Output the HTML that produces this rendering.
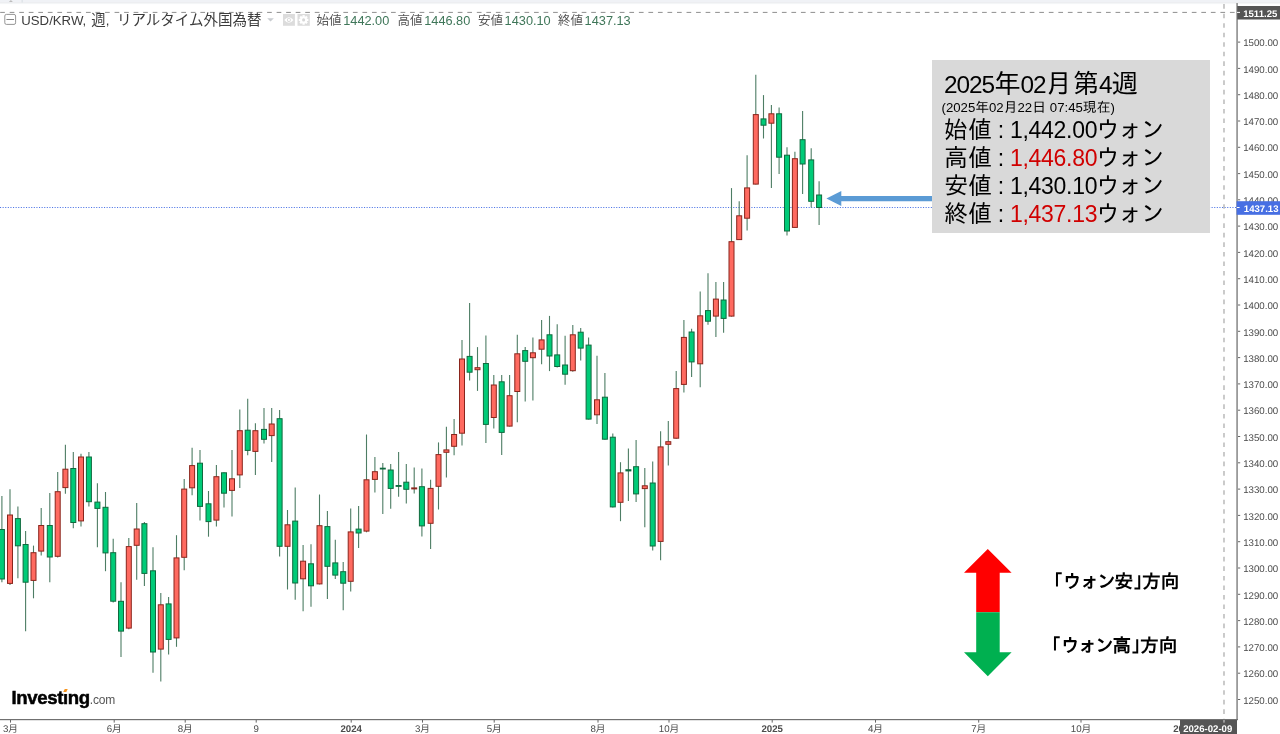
<!DOCTYPE html>
<html lang="ja">
<head>
<meta charset="utf-8">
<title>USD/KRW 週足チャート</title>
<style>
html,body{margin:0;padding:0;background:#fff;}
body{width:1280px;height:734px;overflow:hidden;position:relative;font-family:"Liberation Sans","Noto Sans CJK JP",sans-serif;}
svg{position:absolute;left:0;top:0;display:block;}
.ax{font:9.7px "Liberation Sans",sans-serif;fill:#4c4c4c;text-rendering:geometricPrecision;}
.tx{font:9.7px "Liberation Sans","Noto Sans CJK JP",sans-serif;fill:#4c4c4c;text-rendering:geometricPrecision;}
.b{font-weight:bold;}
.lb{font:bold 9.6px "Liberation Sans",sans-serif;fill:#fff;text-rendering:geometricPrecision;}
.lg{position:absolute;top:9px;height:22px;line-height:22px;white-space:nowrap;color:#3c3c3c;}
.lg .la{font-family:"Liberation Sans",sans-serif;font-size:13.2px;}
.lg .cj{font-family:"Liberation Sans","Noto Sans CJK JP",sans-serif;font-size:14.5px;font-weight:400;}
.ohlc{position:absolute;top:9px;height:22px;line-height:22px;white-space:nowrap;}
.ohlc .k{font-family:"Liberation Sans","Noto Sans CJK JP",sans-serif;font-size:12.5px;color:#555;font-weight:400;}
.ohlc .v{font-family:"Liberation Sans",sans-serif;font-size:12.75px;color:#3f7659;margin-left:1.6px;}
#info{position:absolute;left:932px;top:60px;width:278px;height:173px;background:#d9d9d9;}
#info div{position:absolute;left:12px;white-space:nowrap;color:#000;font-family:"Liberation Sans","IPAGothic",sans-serif;}
#info .t{top:9.3px;font-size:26.7px;line-height:30px;}
#info .s{top:39.5px;font-size:13.8px;line-height:16px;left:9.5px;}
#info .r{font-size:24px;line-height:28px;}
#info .n{font-family:"Liberation Sans",sans-serif;font-size:23px;letter-spacing:-0.3px;}
#info .c{display:inline-block;width:18px;text-align:center;font-family:"Liberation Sans",sans-serif;font-size:23px;}
#info .k{letter-spacing:-1.6px;margin-left:-1.2px;}
#info .t .n{font-size:24.4px;letter-spacing:-1.1px;}
#info .s .n{font-size:13.2px;letter-spacing:0;}
#info .red{color:#d00000;}
.dir{position:absolute;font-family:"Liberation Sans","IPAGothic",sans-serif;font-weight:bold;font-size:18.7px;line-height:22px;color:#000;white-space:nowrap;}
.dir .ka{letter-spacing:-1.53px;}
.dir .br{margin-right:-9.8px;}
#logo{position:absolute;left:11.5px;top:686px;height:24px;line-height:24px;white-space:nowrap;font-family:"Liberation Sans",sans-serif;}
#logo b{font-size:18.6px;letter-spacing:-0.37px;color:#000;-webkit-text-stroke:0.5px #000;}
#logo i{position:absolute;display:block;}
#logo .w{left:52px;top:3.4px;width:4.4px;height:4.4px;background:#fff;}
#logo .o{left:52.3px;top:3.4px;width:3.3px;height:3.0px;background:#f7941d;transform:skewX(-26deg);}
#logo span{font-size:12px;color:#555;letter-spacing:-0.2px;}
</style>
</head>
<body>
<svg width="1280" height="734" viewBox="0 0 1280 734">
<!-- top toolbar remnant -->
<rect x="0" y="0" width="1280" height="2.3" fill="#f0f2f6"/>
<rect x="0" y="2.3" width="1280" height="1.1" fill="#e7e9ed"/>
<rect x="0" y="3.4" width="1280" height="0.7" fill="#f4f5f7"/>
<rect x="21.5" y="0" width="1.3" height="2.5" fill="#dde1e6"/>
<polygon points="8.9,1.9 10.9,0 12.9,1.9" fill="#bdbdbd"/>
<!-- price line -->
<line x1="0" x2="1237" y1="207.5" y2="207.5" stroke="#4f76e6" stroke-width="1" stroke-dasharray="1.1 1.5"/>
<!-- crosshair -->
<line x1="0.17" x2="1237" y1="12.4" y2="12.4" stroke="#8f8f8f" stroke-width="1" stroke-dasharray="4.7 4.833"/>
<line x1="1224" x2="1224" y1="4.1" y2="719" stroke="#a8a8a8" stroke-width="1.2" stroke-dasharray="4.6 4.93"/>
<!-- candles -->
<g>
<line x1="1.90" x2="1.90" y1="496.1" y2="582.3" stroke="#4d7d64" stroke-width="1.1"/>
<rect x="-0.60" y="529.5" width="5" height="49.5" fill="#00cb78" stroke="#0f6a3e" stroke-width="1"/>
<line x1="10.00" x2="10.00" y1="489.2" y2="585.0" stroke="#4d7d64" stroke-width="1.1"/>
<rect x="7.50" y="515.0" width="5" height="68.4" fill="#ff6a60" stroke="#8a251c" stroke-width="1"/>
<line x1="17.90" x2="17.90" y1="506.5" y2="578.2" stroke="#4d7d64" stroke-width="1.1"/>
<rect x="15.40" y="518.6" width="5" height="27.2" fill="#00cb78" stroke="#0f6a3e" stroke-width="1"/>
<line x1="25.60" x2="25.60" y1="530.9" y2="631.2" stroke="#4d7d64" stroke-width="1.1"/>
<rect x="23.10" y="544.5" width="5" height="37.7" fill="#00cb78" stroke="#0f6a3e" stroke-width="1"/>
<line x1="33.50" x2="33.50" y1="545.6" y2="598.3" stroke="#4d7d64" stroke-width="1.1"/>
<rect x="31.00" y="552.7" width="5" height="27.7" fill="#ff6a60" stroke="#8a251c" stroke-width="1"/>
<line x1="41.20" x2="41.20" y1="508.0" y2="555.5" stroke="#4d7d64" stroke-width="1.1"/>
<rect x="38.70" y="525.5" width="5" height="25.6" fill="#ff6a60" stroke="#8a251c" stroke-width="1"/>
<line x1="49.80" x2="49.80" y1="493.0" y2="582.3" stroke="#4d7d64" stroke-width="1.1"/>
<rect x="47.30" y="525.5" width="5" height="31.5" fill="#00cb78" stroke="#0f6a3e" stroke-width="1"/>
<line x1="57.70" x2="57.70" y1="472.0" y2="557.5" stroke="#4d7d64" stroke-width="1.1"/>
<rect x="55.20" y="491.7" width="5" height="64.6" fill="#ff6a60" stroke="#8a251c" stroke-width="1"/>
<line x1="65.40" x2="65.40" y1="444.8" y2="493.7" stroke="#4d7d64" stroke-width="1.1"/>
<rect x="62.90" y="469.2" width="5" height="18.4" fill="#ff6a60" stroke="#8a251c" stroke-width="1"/>
<line x1="73.30" x2="73.30" y1="452.0" y2="528.3" stroke="#4d7d64" stroke-width="1.1"/>
<rect x="70.80" y="468.5" width="5" height="54.0" fill="#00cb78" stroke="#0f6a3e" stroke-width="1"/>
<line x1="81.00" x2="81.00" y1="453.8" y2="526.6" stroke="#4d7d64" stroke-width="1.1"/>
<rect x="78.50" y="457.0" width="5" height="63.9" fill="#ff6a60" stroke="#8a251c" stroke-width="1"/>
<line x1="88.90" x2="88.90" y1="452.0" y2="506.5" stroke="#4d7d64" stroke-width="1.1"/>
<rect x="86.40" y="457.0" width="5" height="44.7" fill="#00cb78" stroke="#0f6a3e" stroke-width="1"/>
<line x1="97.40" x2="97.40" y1="483.2" y2="547.3" stroke="#4d7d64" stroke-width="1.1"/>
<rect x="94.90" y="502.1" width="5" height="6.3" fill="#00cb78" stroke="#0f6a3e" stroke-width="1"/>
<line x1="105.50" x2="105.50" y1="492.0" y2="571.2" stroke="#4d7d64" stroke-width="1.1"/>
<rect x="103.00" y="507.3" width="5" height="45.6" fill="#00cb78" stroke="#0f6a3e" stroke-width="1"/>
<line x1="113.20" x2="113.20" y1="538.8" y2="602.6" stroke="#4d7d64" stroke-width="1.1"/>
<rect x="110.70" y="552.7" width="5" height="48.5" fill="#00cb78" stroke="#0f6a3e" stroke-width="1"/>
<line x1="121.00" x2="121.00" y1="582.3" y2="657.1" stroke="#4d7d64" stroke-width="1.1"/>
<rect x="118.50" y="601.3" width="5" height="29.8" fill="#00cb78" stroke="#0f6a3e" stroke-width="1"/>
<line x1="128.80" x2="128.80" y1="538.0" y2="629.3" stroke="#4d7d64" stroke-width="1.1"/>
<rect x="126.30" y="546.6" width="5" height="81.5" fill="#ff6a60" stroke="#8a251c" stroke-width="1"/>
<line x1="136.70" x2="136.70" y1="502.9" y2="579.7" stroke="#4d7d64" stroke-width="1.1"/>
<rect x="134.20" y="529.0" width="5" height="16.3" fill="#ff6a60" stroke="#8a251c" stroke-width="1"/>
<line x1="144.40" x2="144.40" y1="522.0" y2="586.1" stroke="#4d7d64" stroke-width="1.1"/>
<rect x="141.90" y="523.7" width="5" height="49.7" fill="#00cb78" stroke="#0f6a3e" stroke-width="1"/>
<line x1="153.00" x2="153.00" y1="547.3" y2="672.7" stroke="#4d7d64" stroke-width="1.1"/>
<rect x="150.50" y="570.8" width="5" height="81.2" fill="#00cb78" stroke="#0f6a3e" stroke-width="1"/>
<line x1="160.80" x2="160.80" y1="592.9" y2="681.6" stroke="#4d7d64" stroke-width="1.1"/>
<rect x="158.30" y="604.8" width="5" height="44.3" fill="#ff6a60" stroke="#8a251c" stroke-width="1"/>
<line x1="168.60" x2="168.60" y1="597.0" y2="654.5" stroke="#4d7d64" stroke-width="1.1"/>
<rect x="166.10" y="603.9" width="5" height="35.5" fill="#00cb78" stroke="#0f6a3e" stroke-width="1"/>
<line x1="176.50" x2="176.50" y1="535.2" y2="646.8" stroke="#4d7d64" stroke-width="1.1"/>
<rect x="174.00" y="557.9" width="5" height="80.0" fill="#ff6a60" stroke="#8a251c" stroke-width="1"/>
<line x1="184.20" x2="184.20" y1="479.0" y2="570.3" stroke="#4d7d64" stroke-width="1.1"/>
<rect x="181.70" y="489.1" width="5" height="68.2" fill="#ff6a60" stroke="#8a251c" stroke-width="1"/>
<line x1="192.10" x2="192.10" y1="447.8" y2="495.2" stroke="#4d7d64" stroke-width="1.1"/>
<rect x="189.60" y="465.6" width="5" height="22.2" fill="#ff6a60" stroke="#8a251c" stroke-width="1"/>
<line x1="200.00" x2="200.00" y1="450.0" y2="520.6" stroke="#4d7d64" stroke-width="1.1"/>
<rect x="197.50" y="463.2" width="5" height="43.2" fill="#00cb78" stroke="#0f6a3e" stroke-width="1"/>
<line x1="208.50" x2="208.50" y1="491.0" y2="536.7" stroke="#4d7d64" stroke-width="1.1"/>
<rect x="206.00" y="503.8" width="5" height="17.8" fill="#00cb78" stroke="#0f6a3e" stroke-width="1"/>
<line x1="216.40" x2="216.40" y1="465.1" y2="526.6" stroke="#4d7d64" stroke-width="1.1"/>
<rect x="213.90" y="476.7" width="5" height="43.4" fill="#ff6a60" stroke="#8a251c" stroke-width="1"/>
<line x1="224.00" x2="224.00" y1="472.3" y2="507.6" stroke="#4d7d64" stroke-width="1.1"/>
<rect x="221.50" y="472.8" width="5" height="20.4" fill="#00cb78" stroke="#0f6a3e" stroke-width="1"/>
<line x1="232.00" x2="232.00" y1="450.0" y2="516.5" stroke="#4d7d64" stroke-width="1.1"/>
<rect x="229.50" y="478.8" width="5" height="11.6" fill="#ff6a60" stroke="#8a251c" stroke-width="1"/>
<line x1="239.80" x2="239.80" y1="409.4" y2="488.1" stroke="#4d7d64" stroke-width="1.1"/>
<rect x="237.30" y="430.7" width="5" height="44.2" fill="#ff6a60" stroke="#8a251c" stroke-width="1"/>
<line x1="247.70" x2="247.70" y1="398.8" y2="455.2" stroke="#4d7d64" stroke-width="1.1"/>
<rect x="245.20" y="430.2" width="5" height="20.2" fill="#00cb78" stroke="#0f6a3e" stroke-width="1"/>
<line x1="255.40" x2="255.40" y1="423.3" y2="475.0" stroke="#4d7d64" stroke-width="1.1"/>
<rect x="252.90" y="430.7" width="5" height="20.7" fill="#ff6a60" stroke="#8a251c" stroke-width="1"/>
<line x1="264.00" x2="264.00" y1="407.9" y2="443.6" stroke="#4d7d64" stroke-width="1.1"/>
<rect x="261.50" y="429.4" width="5" height="9.9" fill="#00cb78" stroke="#0f6a3e" stroke-width="1"/>
<line x1="271.70" x2="271.70" y1="407.9" y2="462.0" stroke="#4d7d64" stroke-width="1.1"/>
<rect x="269.20" y="424.0" width="5" height="11.6" fill="#ff6a60" stroke="#8a251c" stroke-width="1"/>
<line x1="279.60" x2="279.60" y1="410.1" y2="556.4" stroke="#4d7d64" stroke-width="1.1"/>
<rect x="277.10" y="418.7" width="5" height="127.6" fill="#00cb78" stroke="#0f6a3e" stroke-width="1"/>
<line x1="287.50" x2="287.50" y1="510.0" y2="589.5" stroke="#4d7d64" stroke-width="1.1"/>
<rect x="285.00" y="524.8" width="5" height="21.5" fill="#ff6a60" stroke="#8a251c" stroke-width="1"/>
<line x1="295.20" x2="295.20" y1="487.6" y2="599.8" stroke="#4d7d64" stroke-width="1.1"/>
<rect x="292.70" y="521.1" width="5" height="61.9" fill="#00cb78" stroke="#0f6a3e" stroke-width="1"/>
<line x1="303.10" x2="303.10" y1="545.1" y2="611.3" stroke="#4d7d64" stroke-width="1.1"/>
<rect x="300.60" y="561.2" width="5" height="17.6" fill="#ff6a60" stroke="#8a251c" stroke-width="1"/>
<line x1="311.00" x2="311.00" y1="544.2" y2="606.8" stroke="#4d7d64" stroke-width="1.1"/>
<rect x="308.50" y="563.8" width="5" height="22.0" fill="#00cb78" stroke="#0f6a3e" stroke-width="1"/>
<line x1="319.50" x2="319.50" y1="494.5" y2="584.4" stroke="#4d7d64" stroke-width="1.1"/>
<rect x="317.00" y="525.7" width="5" height="58.2" fill="#ff6a60" stroke="#8a251c" stroke-width="1"/>
<line x1="327.40" x2="327.40" y1="511.0" y2="599.1" stroke="#4d7d64" stroke-width="1.1"/>
<rect x="324.90" y="526.6" width="5" height="39.7" fill="#00cb78" stroke="#0f6a3e" stroke-width="1"/>
<line x1="335.30" x2="335.30" y1="539.7" y2="579.1" stroke="#4d7d64" stroke-width="1.1"/>
<rect x="332.80" y="562.9" width="5" height="12.2" fill="#00cb78" stroke="#0f6a3e" stroke-width="1"/>
<line x1="343.20" x2="343.20" y1="562.0" y2="610.3" stroke="#4d7d64" stroke-width="1.1"/>
<rect x="340.70" y="571.7" width="5" height="11.5" fill="#00cb78" stroke="#0f6a3e" stroke-width="1"/>
<line x1="350.70" x2="350.70" y1="508.4" y2="591.5" stroke="#4d7d64" stroke-width="1.1"/>
<rect x="348.20" y="531.9" width="5" height="49.4" fill="#ff6a60" stroke="#8a251c" stroke-width="1"/>
<line x1="358.60" x2="358.60" y1="506.0" y2="547.9" stroke="#4d7d64" stroke-width="1.1"/>
<rect x="356.10" y="529.1" width="5" height="3.9" fill="#00cb78" stroke="#0f6a3e" stroke-width="1"/>
<line x1="366.50" x2="366.50" y1="434.5" y2="532.3" stroke="#4d7d64" stroke-width="1.1"/>
<rect x="364.00" y="479.8" width="5" height="51.3" fill="#ff6a60" stroke="#8a251c" stroke-width="1"/>
<line x1="374.90" x2="374.90" y1="456.9" y2="492.4" stroke="#4d7d64" stroke-width="1.1"/>
<rect x="372.40" y="471.7" width="5" height="7.7" fill="#ff6a60" stroke="#8a251c" stroke-width="1"/>
<line x1="382.80" x2="382.80" y1="462.9" y2="514.1" stroke="#4d7d64" stroke-width="1.1"/>
<rect x="379.80" y="467.7" width="6" height="1.8" fill="#0f6a3e"/>
<line x1="390.70" x2="390.70" y1="463.9" y2="508.8" stroke="#4d7d64" stroke-width="1.1"/>
<rect x="388.20" y="470.0" width="5" height="18.4" fill="#00cb78" stroke="#0f6a3e" stroke-width="1"/>
<line x1="398.60" x2="398.60" y1="452.0" y2="496.8" stroke="#4d7d64" stroke-width="1.1"/>
<rect x="395.60" y="485.0" width="6" height="1.9" fill="#0f6a3e"/>
<line x1="406.30" x2="406.30" y1="463.9" y2="503.5" stroke="#4d7d64" stroke-width="1.1"/>
<rect x="403.80" y="482.2" width="5" height="7.1" fill="#00cb78" stroke="#0f6a3e" stroke-width="1"/>
<line x1="414.20" x2="414.20" y1="467.4" y2="493.4" stroke="#4d7d64" stroke-width="1.1"/>
<rect x="411.20" y="487.4" width="6" height="2.0" fill="#8a251c"/>
<line x1="421.90" x2="421.90" y1="468.6" y2="536.5" stroke="#4d7d64" stroke-width="1.1"/>
<rect x="419.40" y="486.7" width="5" height="39.2" fill="#00cb78" stroke="#0f6a3e" stroke-width="1"/>
<line x1="430.60" x2="430.60" y1="479.8" y2="548.9" stroke="#4d7d64" stroke-width="1.1"/>
<rect x="428.10" y="488.4" width="5" height="34.9" fill="#ff6a60" stroke="#8a251c" stroke-width="1"/>
<line x1="438.50" x2="438.50" y1="442.4" y2="509.5" stroke="#4d7d64" stroke-width="1.1"/>
<rect x="436.00" y="454.6" width="5" height="31.7" fill="#ff6a60" stroke="#8a251c" stroke-width="1"/>
<line x1="446.40" x2="446.40" y1="426.8" y2="477.6" stroke="#4d7d64" stroke-width="1.1"/>
<rect x="443.90" y="449.9" width="5" height="2.4" fill="#ff6a60" stroke="#8a251c" stroke-width="1"/>
<line x1="454.10" x2="454.10" y1="418.9" y2="455.2" stroke="#4d7d64" stroke-width="1.1"/>
<rect x="451.60" y="434.5" width="5" height="11.8" fill="#ff6a60" stroke="#8a251c" stroke-width="1"/>
<line x1="462.00" x2="462.00" y1="340.1" y2="445.4" stroke="#4d7d64" stroke-width="1.1"/>
<rect x="459.50" y="359.0" width="5" height="74.2" fill="#ff6a60" stroke="#8a251c" stroke-width="1"/>
<line x1="469.60" x2="469.60" y1="302.9" y2="380.5" stroke="#4d7d64" stroke-width="1.1"/>
<rect x="467.10" y="356.4" width="5" height="15.8" fill="#00cb78" stroke="#0f6a3e" stroke-width="1"/>
<line x1="477.50" x2="477.50" y1="347.1" y2="390.9" stroke="#4d7d64" stroke-width="1.1"/>
<rect x="475.00" y="367.7" width="5" height="2.0" fill="#ff6a60" stroke="#8a251c" stroke-width="1"/>
<line x1="485.90" x2="485.90" y1="335.6" y2="443.0" stroke="#4d7d64" stroke-width="1.1"/>
<rect x="483.40" y="363.5" width="5" height="60.9" fill="#00cb78" stroke="#0f6a3e" stroke-width="1"/>
<line x1="493.80" x2="493.80" y1="374.9" y2="428.4" stroke="#4d7d64" stroke-width="1.1"/>
<rect x="491.30" y="385.0" width="5" height="32.5" fill="#ff6a60" stroke="#8a251c" stroke-width="1"/>
<line x1="501.70" x2="501.70" y1="374.9" y2="455.1" stroke="#4d7d64" stroke-width="1.1"/>
<rect x="499.20" y="381.8" width="5" height="50.6" fill="#00cb78" stroke="#0f6a3e" stroke-width="1"/>
<line x1="509.60" x2="509.60" y1="374.9" y2="426.6" stroke="#4d7d64" stroke-width="1.1"/>
<rect x="507.10" y="395.7" width="5" height="30.4" fill="#ff6a60" stroke="#8a251c" stroke-width="1"/>
<line x1="517.30" x2="517.30" y1="334.8" y2="422.3" stroke="#4d7d64" stroke-width="1.1"/>
<rect x="514.80" y="353.8" width="5" height="37.7" fill="#ff6a60" stroke="#8a251c" stroke-width="1"/>
<line x1="525.20" x2="525.20" y1="347.1" y2="401.4" stroke="#4d7d64" stroke-width="1.1"/>
<rect x="522.70" y="350.6" width="5" height="10.7" fill="#00cb78" stroke="#0f6a3e" stroke-width="1"/>
<line x1="532.90" x2="532.90" y1="337.5" y2="400.6" stroke="#4d7d64" stroke-width="1.1"/>
<rect x="530.40" y="352.8" width="5" height="4.9" fill="#ff6a60" stroke="#8a251c" stroke-width="1"/>
<line x1="541.60" x2="541.60" y1="320.0" y2="364.2" stroke="#4d7d64" stroke-width="1.1"/>
<rect x="539.10" y="339.9" width="5" height="9.3" fill="#ff6a60" stroke="#8a251c" stroke-width="1"/>
<line x1="549.50" x2="549.50" y1="315.9" y2="371.1" stroke="#4d7d64" stroke-width="1.1"/>
<rect x="547.00" y="334.8" width="5" height="21.2" fill="#00cb78" stroke="#0f6a3e" stroke-width="1"/>
<line x1="557.20" x2="557.20" y1="324.3" y2="367.6" stroke="#4d7d64" stroke-width="1.1"/>
<rect x="554.70" y="354.9" width="5" height="11.6" fill="#00cb78" stroke="#0f6a3e" stroke-width="1"/>
<line x1="565.10" x2="565.10" y1="335.8" y2="384.7" stroke="#4d7d64" stroke-width="1.1"/>
<rect x="562.60" y="365.0" width="5" height="9.2" fill="#00cb78" stroke="#0f6a3e" stroke-width="1"/>
<line x1="572.80" x2="572.80" y1="325.1" y2="371.7" stroke="#4d7d64" stroke-width="1.1"/>
<rect x="570.30" y="334.8" width="5" height="35.9" fill="#ff6a60" stroke="#8a251c" stroke-width="1"/>
<line x1="580.70" x2="580.70" y1="327.9" y2="360.4" stroke="#4d7d64" stroke-width="1.1"/>
<rect x="578.20" y="332.2" width="5" height="15.9" fill="#00cb78" stroke="#0f6a3e" stroke-width="1"/>
<line x1="588.60" x2="588.60" y1="337.5" y2="419.6" stroke="#4d7d64" stroke-width="1.1"/>
<rect x="586.10" y="345.1" width="5" height="74.0" fill="#00cb78" stroke="#0f6a3e" stroke-width="1"/>
<line x1="597.00" x2="597.00" y1="355.7" y2="423.9" stroke="#4d7d64" stroke-width="1.1"/>
<rect x="594.50" y="399.8" width="5" height="15.0" fill="#ff6a60" stroke="#8a251c" stroke-width="1"/>
<line x1="604.90" x2="604.90" y1="373.0" y2="439.7" stroke="#4d7d64" stroke-width="1.1"/>
<rect x="602.40" y="397.2" width="5" height="42.0" fill="#00cb78" stroke="#0f6a3e" stroke-width="1"/>
<line x1="612.80" x2="612.80" y1="433.6" y2="507.4" stroke="#4d7d64" stroke-width="1.1"/>
<rect x="610.30" y="437.2" width="5" height="69.7" fill="#00cb78" stroke="#0f6a3e" stroke-width="1"/>
<line x1="620.50" x2="620.50" y1="462.2" y2="521.2" stroke="#4d7d64" stroke-width="1.1"/>
<rect x="618.00" y="472.9" width="5" height="29.4" fill="#ff6a60" stroke="#8a251c" stroke-width="1"/>
<line x1="628.40" x2="628.40" y1="448.5" y2="501.1" stroke="#4d7d64" stroke-width="1.1"/>
<rect x="625.40" y="469.2" width="6" height="2.2" fill="#0f6a3e"/>
<line x1="636.10" x2="636.10" y1="440.0" y2="501.9" stroke="#4d7d64" stroke-width="1.1"/>
<rect x="633.60" y="466.7" width="5" height="27.2" fill="#00cb78" stroke="#0f6a3e" stroke-width="1"/>
<line x1="644.80" x2="644.80" y1="467.9" y2="527.3" stroke="#4d7d64" stroke-width="1.1"/>
<rect x="642.30" y="485.8" width="5" height="2.8" fill="#ff6a60" stroke="#8a251c" stroke-width="1"/>
<line x1="652.70" x2="652.70" y1="461.5" y2="550.6" stroke="#4d7d64" stroke-width="1.1"/>
<rect x="650.20" y="483.0" width="5" height="63.0" fill="#00cb78" stroke="#0f6a3e" stroke-width="1"/>
<line x1="660.60" x2="660.60" y1="431.2" y2="560.3" stroke="#4d7d64" stroke-width="1.1"/>
<rect x="658.10" y="446.9" width="5" height="94.5" fill="#ff6a60" stroke="#8a251c" stroke-width="1"/>
<line x1="668.30" x2="668.30" y1="420.9" y2="465.6" stroke="#4d7d64" stroke-width="1.1"/>
<rect x="665.80" y="441.7" width="5" height="2.6" fill="#ff6a60" stroke="#8a251c" stroke-width="1"/>
<line x1="676.20" x2="676.20" y1="371.1" y2="438.7" stroke="#4d7d64" stroke-width="1.1"/>
<rect x="673.70" y="388.6" width="5" height="49.6" fill="#ff6a60" stroke="#8a251c" stroke-width="1"/>
<line x1="683.90" x2="683.90" y1="320.0" y2="392.6" stroke="#4d7d64" stroke-width="1.1"/>
<rect x="681.40" y="337.4" width="5" height="47.0" fill="#ff6a60" stroke="#8a251c" stroke-width="1"/>
<line x1="691.60" x2="691.60" y1="328.8" y2="377.1" stroke="#4d7d64" stroke-width="1.1"/>
<rect x="689.10" y="332.0" width="5" height="29.9" fill="#00cb78" stroke="#0f6a3e" stroke-width="1"/>
<line x1="700.20" x2="700.20" y1="291.4" y2="387.2" stroke="#4d7d64" stroke-width="1.1"/>
<rect x="697.70" y="315.8" width="5" height="48.0" fill="#ff6a60" stroke="#8a251c" stroke-width="1"/>
<line x1="708.00" x2="708.00" y1="273.2" y2="324.7" stroke="#4d7d64" stroke-width="1.1"/>
<rect x="705.50" y="310.6" width="5" height="10.6" fill="#00cb78" stroke="#0f6a3e" stroke-width="1"/>
<line x1="715.90" x2="715.90" y1="282.0" y2="337.0" stroke="#4d7d64" stroke-width="1.1"/>
<rect x="713.40" y="299.1" width="5" height="17.0" fill="#ff6a60" stroke="#8a251c" stroke-width="1"/>
<line x1="723.60" x2="723.60" y1="282.0" y2="332.7" stroke="#4d7d64" stroke-width="1.1"/>
<rect x="721.10" y="300.0" width="5" height="18.4" fill="#00cb78" stroke="#0f6a3e" stroke-width="1"/>
<line x1="731.50" x2="731.50" y1="188.1" y2="316.6" stroke="#4d7d64" stroke-width="1.1"/>
<rect x="729.00" y="241.7" width="5" height="74.4" fill="#ff6a60" stroke="#8a251c" stroke-width="1"/>
<line x1="739.20" x2="739.20" y1="201.2" y2="240.1" stroke="#4d7d64" stroke-width="1.1"/>
<rect x="736.70" y="215.8" width="5" height="23.8" fill="#ff6a60" stroke="#8a251c" stroke-width="1"/>
<line x1="747.10" x2="747.10" y1="155.2" y2="230.5" stroke="#4d7d64" stroke-width="1.1"/>
<rect x="744.60" y="187.9" width="5" height="30.3" fill="#ff6a60" stroke="#8a251c" stroke-width="1"/>
<line x1="755.80" x2="755.80" y1="74.8" y2="184.6" stroke="#4d7d64" stroke-width="1.1"/>
<rect x="753.30" y="114.6" width="5" height="69.5" fill="#ff6a60" stroke="#8a251c" stroke-width="1"/>
<line x1="763.50" x2="763.50" y1="95.1" y2="138.5" stroke="#4d7d64" stroke-width="1.1"/>
<rect x="761.00" y="118.9" width="5" height="6.3" fill="#00cb78" stroke="#0f6a3e" stroke-width="1"/>
<line x1="771.40" x2="771.40" y1="105.0" y2="188.1" stroke="#4d7d64" stroke-width="1.1"/>
<rect x="768.90" y="113.8" width="5" height="9.4" fill="#ff6a60" stroke="#8a251c" stroke-width="1"/>
<line x1="779.10" x2="779.10" y1="107.5" y2="174.0" stroke="#4d7d64" stroke-width="1.1"/>
<rect x="776.60" y="113.8" width="5" height="43.4" fill="#00cb78" stroke="#0f6a3e" stroke-width="1"/>
<line x1="787.00" x2="787.00" y1="147.3" y2="235.4" stroke="#4d7d64" stroke-width="1.1"/>
<rect x="784.50" y="155.2" width="5" height="75.8" fill="#00cb78" stroke="#0f6a3e" stroke-width="1"/>
<line x1="794.90" x2="794.90" y1="151.8" y2="227.9" stroke="#4d7d64" stroke-width="1.1"/>
<rect x="792.40" y="158.7" width="5" height="68.7" fill="#ff6a60" stroke="#8a251c" stroke-width="1"/>
<line x1="802.60" x2="802.60" y1="111.1" y2="193.9" stroke="#4d7d64" stroke-width="1.1"/>
<rect x="800.10" y="139.7" width="5" height="24.3" fill="#00cb78" stroke="#0f6a3e" stroke-width="1"/>
<line x1="811.20" x2="811.20" y1="148.3" y2="207.6" stroke="#4d7d64" stroke-width="1.1"/>
<rect x="808.70" y="159.9" width="5" height="41.4" fill="#00cb78" stroke="#0f6a3e" stroke-width="1"/>
<line x1="819.10" x2="819.10" y1="181.2" y2="225.1" stroke="#4d7d64" stroke-width="1.1"/>
<rect x="816.60" y="195.0" width="5" height="12.5" fill="#00cb78" stroke="#0f6a3e" stroke-width="1"/>
</g>
<!-- axes -->
<rect x="1236.2" y="3" width="1.8" height="717" fill="#9a9a9a"/>
<rect x="0" y="719" width="1238" height="1.2" fill="#707070"/>
<rect x="1238" y="699.0" width="2.2" height="1" fill="#666"/>
<text x="1243.2" y="703.71" class="ax">1250.00</text>
<rect x="1238" y="672.7" width="2.2" height="1" fill="#666"/>
<text x="1243.2" y="677.41" class="ax">1260.00</text>
<rect x="1238" y="646.4" width="2.2" height="1" fill="#666"/>
<text x="1243.2" y="651.11" class="ax">1270.00</text>
<rect x="1238" y="620.1" width="2.2" height="1" fill="#666"/>
<text x="1243.2" y="624.82" class="ax">1280.00</text>
<rect x="1238" y="593.8" width="2.2" height="1" fill="#666"/>
<text x="1243.2" y="598.52" class="ax">1290.00</text>
<rect x="1238" y="567.5" width="2.2" height="1" fill="#666"/>
<text x="1243.2" y="572.22" class="ax">1300.00</text>
<rect x="1238" y="541.2" width="2.2" height="1" fill="#666"/>
<text x="1243.2" y="545.92" class="ax">1310.00</text>
<rect x="1238" y="514.9" width="2.2" height="1" fill="#666"/>
<text x="1243.2" y="519.62" class="ax">1320.00</text>
<rect x="1238" y="488.6" width="2.2" height="1" fill="#666"/>
<text x="1243.2" y="493.33" class="ax">1330.00</text>
<rect x="1238" y="462.3" width="2.2" height="1" fill="#666"/>
<text x="1243.2" y="467.03" class="ax">1340.00</text>
<rect x="1238" y="436.0" width="2.2" height="1" fill="#666"/>
<text x="1243.2" y="440.73" class="ax">1350.00</text>
<rect x="1238" y="409.7" width="2.2" height="1" fill="#666"/>
<text x="1243.2" y="414.43" class="ax">1360.00</text>
<rect x="1238" y="383.4" width="2.2" height="1" fill="#666"/>
<text x="1243.2" y="388.13" class="ax">1370.00</text>
<rect x="1238" y="357.1" width="2.2" height="1" fill="#666"/>
<text x="1243.2" y="361.84" class="ax">1380.00</text>
<rect x="1238" y="330.8" width="2.2" height="1" fill="#666"/>
<text x="1243.2" y="335.54" class="ax">1390.00</text>
<rect x="1238" y="304.5" width="2.2" height="1" fill="#666"/>
<text x="1243.2" y="309.24" class="ax">1400.00</text>
<rect x="1238" y="278.2" width="2.2" height="1" fill="#666"/>
<text x="1243.2" y="282.94" class="ax">1410.00</text>
<rect x="1238" y="251.9" width="2.2" height="1" fill="#666"/>
<text x="1243.2" y="256.64" class="ax">1420.00</text>
<rect x="1238" y="225.6" width="2.2" height="1" fill="#666"/>
<text x="1243.2" y="230.35" class="ax">1430.00</text>
<rect x="1238" y="199.3" width="2.2" height="1" fill="#666"/>
<text x="1243.2" y="204.05" class="ax">1440.00</text>
<rect x="1238" y="173.1" width="2.2" height="1" fill="#666"/>
<text x="1243.2" y="177.75" class="ax">1450.00</text>
<rect x="1238" y="146.8" width="2.2" height="1" fill="#666"/>
<text x="1243.2" y="151.45" class="ax">1460.00</text>
<rect x="1238" y="120.5" width="2.2" height="1" fill="#666"/>
<text x="1243.2" y="125.15" class="ax">1470.00</text>
<rect x="1238" y="94.2" width="2.2" height="1" fill="#666"/>
<text x="1243.2" y="98.86" class="ax">1480.00</text>
<rect x="1238" y="67.9" width="2.2" height="1" fill="#666"/>
<text x="1243.2" y="72.56" class="ax">1490.00</text>
<rect x="1238" y="41.6" width="2.2" height="1" fill="#666"/>
<text x="1243.2" y="46.26" class="ax">1500.00</text>
<rect x="10.0" y="720" width="1" height="2.6" fill="#666"/>
<text x="10.5" y="732.1" text-anchor="middle" class="tx">3月</text>
<rect x="113.7" y="720" width="1" height="2.6" fill="#666"/>
<text x="114.2" y="732.1" text-anchor="middle" class="tx">6月</text>
<rect x="184.7" y="720" width="1" height="2.6" fill="#666"/>
<text x="185.2" y="732.1" text-anchor="middle" class="tx">8月</text>
<rect x="255.7" y="720" width="1" height="2.6" fill="#666"/>
<text x="256.2" y="732.1" text-anchor="middle" class="tx">9</text>
<rect x="350.7" y="720" width="1" height="2.6" fill="#666"/>
<text x="351.2" y="732.1" text-anchor="middle" class="tx b">2024</text>
<rect x="422.0" y="720" width="1" height="2.6" fill="#666"/>
<text x="422.5" y="732.1" text-anchor="middle" class="tx">3月</text>
<rect x="493.7" y="720" width="1" height="2.6" fill="#666"/>
<text x="494.2" y="732.1" text-anchor="middle" class="tx">5月</text>
<rect x="597.5" y="720" width="1" height="2.6" fill="#666"/>
<text x="598.0" y="732.1" text-anchor="middle" class="tx">8月</text>
<rect x="668.5" y="720" width="1" height="2.6" fill="#666"/>
<text x="669.0" y="732.1" text-anchor="middle" class="tx">10月</text>
<rect x="771.7" y="720" width="1" height="2.6" fill="#666"/>
<text x="772.2" y="732.1" text-anchor="middle" class="tx b">2025</text>
<rect x="875.0" y="720" width="1" height="2.6" fill="#666"/>
<text x="875.5" y="732.1" text-anchor="middle" class="tx">4月</text>
<rect x="978.2" y="720" width="1" height="2.6" fill="#666"/>
<text x="978.7" y="732.1" text-anchor="middle" class="tx">7月</text>
<rect x="1080.5" y="720" width="1" height="2.6" fill="#666"/>
<text x="1081.0" y="732.1" text-anchor="middle" class="tx">10月</text>
<rect x="1183.5" y="720" width="1" height="2.6" fill="#666"/>
<text x="1184.0" y="732.1" text-anchor="middle" class="tx b">2026</text>
<!-- crosshair price label -->
<rect x="1237.2" y="6" width="43" height="13.5" fill="#555555"/>
<rect x="1237" y="11.9" width="3" height="1" fill="#fff"/>
<text x="1243.2" y="16.6" class="lb">1511.25</text>
<!-- last price label -->
<rect x="1236.6" y="201.2" width="44" height="13.6" fill="#476fe3"/>
<rect x="1237" y="207" width="2.6" height="1" fill="#fff"/>
<text x="1243.8" y="211.7" class="lb">1437.13</text>
<!-- crosshair date label -->
<rect x="1180" y="720" width="57" height="14" fill="#555555"/>
<rect x="1223.5" y="720" width="1" height="2.6" fill="#ddd"/>
<text x="1183.2" y="731.6" class="lb">2026-02-09</text>
<!-- blue arrow -->
<polygon points="826.4,198.6 841.3,190.9 841.3,196 932,196 932,201.2 841.3,201.2 841.3,206.1" fill="#5b9bd5"/>
<!-- legend arrows -->
<polygon points="987.8,548.9 1011.6,572.8 999.7,572.8 999.7,612.2 976.2,612.2 976.2,572.8 964,572.8" fill="#ff0000"/>
<polygon points="976.2,612.2 999.7,612.2 999.7,652.3 1011.6,652.3 987.8,676.2 964,652.3 976.2,652.3" fill="#00b050"/>
<!-- legend icons -->
<rect x="4.8" y="14.4" width="10.8" height="10" rx="1.6" fill="none" stroke="#8a8a8a" stroke-width="0.9"/>
<rect x="6.4" y="19" width="7.6" height="0.9" fill="#777"/>
<polygon points="267.2,18.2 273.9,18.2 270.55,21.4" fill="#c9ccd0"/>
<rect x="283" y="14" width="11.9" height="11.8" fill="#dcdcdc"/>
<path d="M284.3 19.9 Q288.9 14.4 293.5 19.9 Q288.9 25.4 284.3 19.9Z" fill="#fff"/>
<circle cx="288.9" cy="19.9" r="2" fill="#d6d6d6"/>
<circle cx="288.9" cy="19.9" r="1.15" fill="#fff"/>
<rect x="297.5" y="14" width="12.3" height="11.8" fill="#dcdcdc"/>
<g transform="translate(303.6 19.9)" fill="#fff">
<circle r="3.5"/>
<rect x="-1.15" y="-4.8" width="2.3" height="9.6"/>
<rect x="-1.15" y="-4.8" width="2.3" height="9.6" transform="rotate(45)"/>
<rect x="-1.15" y="-4.8" width="2.3" height="9.6" transform="rotate(90)"/>
<rect x="-1.15" y="-4.8" width="2.3" height="9.6" transform="rotate(135)"/>
<circle r="1.55" fill="#d6d6d6"/>
</g>
</svg>

<div class="lg" style="left:21.3px"><span class="la">USD/KRW,</span></div>
<div class="lg" style="left:91.2px"><span class="cj">週</span><span class="la">,</span></div>
<div class="lg" style="left:117px"><span class="cj">リアルタイム外国為替</span></div>
<div class="ohlc" style="left:316.6px"><span class="k">始値</span><span class="v">1442.00</span></div>
<div class="ohlc" style="left:397.6px"><span class="k">高値</span><span class="v">1446.80</span></div>
<div class="ohlc" style="left:478px"><span class="k">安値</span><span class="v">1430.10</span></div>
<div class="ohlc" style="left:558px"><span class="k">終値</span><span class="v">1437.13</span></div>

<div id="info">
<div class="t"><span class="n">2025</span>年<span class="n">02</span>月第<span class="n">4</span>週</div>
<div class="s"><span class="n">(2025</span>年<span class="n">02</span>月<span class="n">22</span>日 <span class="n">07:45</span>現在<span class="n">)</span></div>
<div class="r" style="top:55.8px">始値<span class="c">:</span><span class="n">1,442.00</span><span class="k">ウォン</span></div>
<div class="r" style="top:83.7px">高値<span class="c">:</span><span class="n red">1,446.80</span><span class="k">ウォン</span></div>
<div class="r" style="top:111.6px">安値<span class="c">:</span><span class="n">1,430.10</span><span class="k">ウォン</span></div>
<div class="r" style="top:139.5px">終値<span class="c">:</span><span class="n red">1,437.13</span><span class="k">ウォン</span></div>
</div>

<div class="dir" style="left:1044.3px;top:571px">「<span class="ka">ウォン</span>安<span class="br">」</span>方向</div>
<div class="dir" style="left:1042.3px;top:635px">「<span class="ka">ウォン</span>高<span class="br">」</span>方向</div>

<div id="logo"><b>Investing</b><span>.com</span><i class="w"></i><i class="o"></i></div>
</body>
</html>
